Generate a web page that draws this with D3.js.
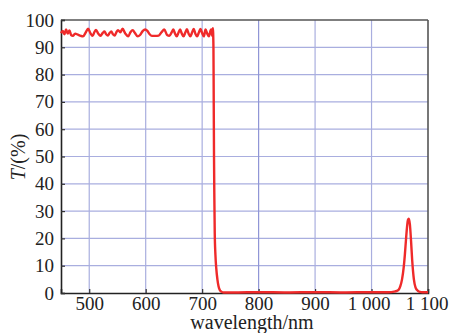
<!DOCTYPE html>
<html>
<head>
<meta charset="utf-8">
<script src="https://cdn.jsdelivr.net/npm/d3@7"></script>
<style>
html,body{margin:0;padding:0;background:#fff;}
svg{display:block;}
</style>
</head>
<body>
<svg id="chart" width="450" height="333"></svg>
<script>
// wavelength (nm) samples
const wavelength = [450,453,456,459,462,465,468,471,475,480,485,489,494,498,502,506,509,512,516,520,524,527,530,533,536,539,542,545,548,551,555,559,564,569,573,577,581,586,590,595,599,603,607,611,617,623,628,633,638,642,646,649,652,655,658,661,664,667,670,673,676,679,682,685,688,691,694,697,700,703,706,709,712,715,716.5,717.8,719,720,720.5,721,721.6,722.3,723.5,725,727,729,731,734,738,760,800,850,900,950,1000,1030,1040,1045,1048,1051,1054,1057,1059,1061,1063,1064.5,1066,1068,1070,1072,1075,1078,1082,1086,1090,1100];
// transmittance T (%)
const transmittance = [95.2,96.0,94.8,96.5,95.0,96.2,94.5,94.2,95.0,94.6,94.2,94.0,95.5,96.8,95.2,94.2,95.5,96.4,95.0,94.2,95.3,95.8,94.8,94.3,95.2,95.8,94.8,94.3,95.5,96.3,95.5,96.8,95.0,94.0,95.5,96.3,95.2,94.0,94.5,96.0,96.5,96.0,94.8,94.2,94.2,94.3,95.5,96.5,94.5,94.2,95.5,96.5,95.0,94.0,95.3,96.5,95.0,94.0,95.3,96.6,95.0,94.0,95.3,96.7,95.0,94.0,95.3,96.7,95.2,94.0,96.5,95.0,94.0,96.2,96.5,94.2,97.0,90,70,50,35,22,14,9,5,2.5,1.2,0.5,0.2,0.2,0.3,0.2,0.3,0.2,0.3,0.3,0.5,0.8,1.2,2.5,5,9.5,14,19.5,24.5,26.8,27.2,25,19,12,5,2,0.8,0.4,0.3,0.3];

const xTicks = [500,600,700,800,900,1000,1100];
const xTickLabels = ["500","600","700","800","900","1 000","1 100"];
const yTicks = [0,10,20,30,40,50,60,70,80,90,100];
const xTitle = "wavelength/nm";

const FONT = "Liberation Serif";
const svg = d3.select("#chart").attr("font-family",FONT);
svg.append("rect").attr("width",450).attr("height",333).attr("fill","#fff");
const L = 61, R = 428, T = 20, B = 293;
const x = d3.scaleLinear().domain([450,1100]).range([L,R]);
const y = d3.scaleLinear().domain([0,100]).range([B,T]);

const gridColor = "#a9aedf";
// grid
svg.append("g").selectAll("line").data(yTicks.filter(d=>d>0&&d<100)).join("line")
  .attr("x1",L).attr("x2",R).attr("y1",d=>y(d)).attr("y2",d=>y(d))
  .attr("stroke",gridColor).attr("stroke-width",1.2);
svg.append("g").selectAll("line").data(xTicks.filter(d=>d<1100)).join("line")
  .attr("y1",T).attr("y2",B).attr("x1",d=>x(d)).attr("x2",d=>x(d))
  .attr("stroke",d=>d===800?"#8f95d6":gridColor).attr("stroke-width",1.2);

// frame top/right
svg.append("line").attr("x1",L).attr("x2",R).attr("y1",T).attr("y2",T).attr("stroke","#555").attr("stroke-width",1.6);
svg.append("line").attr("x1",R).attr("x2",R).attr("y1",T).attr("y2",B).attr("stroke","#555").attr("stroke-width",1.6);

// axes (inward ticks)
const xAxis = d3.axisBottom(x).tickValues(xTicks).tickSize(-4)
  .tickFormat((d,i)=>xTickLabels[i]).tickPadding(9);
const yAxis = d3.axisLeft(y).tickValues(yTicks).tickSize(-4).tickPadding(7);

const gx = svg.append("g").attr("transform",`translate(0,${B})`).call(xAxis);
const gy = svg.append("g").attr("transform",`translate(${L},0)`).call(yAxis);
[gx,gy].forEach(g=>{
  g.attr("font-family",FONT).attr("font-size",19);
  g.select(".domain").attr("stroke","#222").attr("stroke-width",1.6);
  g.selectAll(".tick line").attr("stroke","#333").attr("stroke-width",1.2);
  g.selectAll(".tick text").attr("font-size",19).attr("fill","#222")
    .attr("font-family",FONT);
});
gx.selectAll(".tick text").attr("dy","0.71em").attr("y",4);
gx.selectAll(".tick text").filter(d=>d===1100).attr("text-anchor","end").attr("dx",20);
gx.selectAll(".tick text").filter(d=>d===1000).attr("dx",-3);

// curve
const data = wavelength.map((w,i)=>[w,transmittance[i]]);
svg.append("path").datum(data)
  .attr("fill","none").attr("stroke","#ef2a2a").attr("stroke-width",2.4)
  .attr("stroke-linejoin","round")
  .attr("d",d3.line().x(d=>x(d[0])).y(d=>y(d[1])).curve(d3.curveMonotoneX));

// titles
svg.append("text").attr("x",252).attr("y",328.5).attr("text-anchor","middle")
  .attr("font-family",FONT).attr("fill","#222")
  .attr("font-size",20).text(xTitle);
const yt = svg.append("text").attr("transform","translate(25,157) rotate(-90)")
  .attr("font-family",FONT).attr("fill","#222")
  .attr("text-anchor","middle").attr("font-size",20);
yt.append("tspan").attr("font-style","italic").text("T");
yt.append("tspan").text("/(%)");
</script>
</body>
</html>
